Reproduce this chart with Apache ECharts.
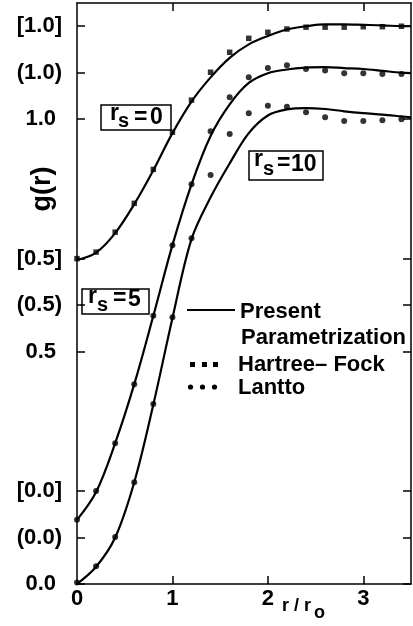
<!DOCTYPE html>
<html><head><meta charset="utf-8">
<script src="https://cdn.jsdelivr.net/npm/echarts@6/dist/echarts.min.js"></script>
<style>html,body{margin:0;padding:0;background:#fff}#c{width:413px;height:626px}</style>
</head><body><div id="c"></div>
<script>
// ---- data (true g(r) values; curves for rs=5 and rs=0 are drawn on offset scales) ----
const xLine = [0,0.2,0.4,0.6,0.8,1.0,1.2,1.4,1.6,1.8,2.0,2.2,2.4,2.6,2.8,3.0,3.2,3.4,3.5];
const lineRs0  = [0.497,0.513,0.555,0.617,0.690,0.770,0.838,0.890,0.932,0.961,0.979,0.993,1.000,1.004,1.004,1.003,1.002,1.000,1.000];
const lineRs5  = [0.038,0.098,0.203,0.330,0.477,0.629,0.760,0.864,0.932,0.978,0.999,1.007,1.011,1.012,1.010,1.008,1.004,1.000,0.999];
const lineRs10 = [0.000,0.037,0.100,0.219,0.386,0.572,0.742,0.832,0.905,0.970,1.008,1.021,1.024,1.022,1.017,1.013,1.010,1.006,1.004];
const xPts = [0,0.2,0.4,0.6,0.8,1.0,1.2,1.4,1.6,1.8,2.0,2.2,2.4,2.6,2.8,3.0,3.2,3.4];
const hartreeFockRs0 = [0.500,0.514,0.557,0.619,0.692,0.772,0.841,0.901,0.944,0.974,0.987,0.994,0.998,0.998,0.998,0.999,0.999,1.000];
const lanttoRs5  = [0.038,0.100,0.203,0.330,0.477,0.629,0.760,0.874,0.947,0.990,1.010,1.016,1.008,1.005,0.999,0.999,0.997,0.997];
const lanttoRs10 = [0.003,0.038,0.101,0.219,0.387,0.574,0.744,0.880,0.968,1.013,1.029,1.027,1.015,1.004,0.996,0.996,0.998,1.000];
const offsetRs0 = 0.2;
const offsetRs5 = 0.1;
const offsetRs10 = 0.0;
const yTickValues = [0,0.1,0.2,0.5,0.6,0.7,1.0,1.1,1.2];
const yTickLabels = ['0.0','(0.0)','[0.0]','0.5','(0.5)','[0.5]','1.0','(1.0)','[1.0]'];
const xTickValues = [0,1,2,3];
const xTickMarks = [1,2,3];

const FAM = '"Liberation Sans", Arial, Helvetica, sans-serif';
const BOLD = (s) => 'bold ' + s + 'px ' + FAM;

function pairs(xs, ys, off) { return xs.map((x, i) => [x, ys[i] + off]); }

const chart = echarts.init(document.getElementById('c'), null, {renderer: 'canvas'});
const axisLineStyle = {color: '#000', width: 1.5};

function txt(x, y, s, size, align) {
  return {type: 'text', x: x, y: y, z: 100,
    style: {text: s, font: BOLD(size), fill: '#000', align: align || 'left', verticalAlign: 'middle',
            textAlign: align || 'left', textVerticalAlign: 'middle'}};
}
function box(x, y, w, h) {
  return {type: 'rect', z: 100, shape: {x: x, y: y, width: w, height: h},
    style: {fill: 'transparent', stroke: '#000', lineWidth: 1.5}};
}

const graphics = [
  // r_s = 0 box
  box(101, 105, 70, 25),
  txt(110, 114, 'r', 23), txt(118, 121, 's', 20), txt(134, 117.5, '=', 23), txt(150, 117.5, '0', 23),
  // r_s = 5 box
  box(82, 289, 67, 25),
  txt(88, 297, 'r', 23), txt(97, 305, 's', 20), txt(113, 299, '=', 23), txt(128, 299.5, '5', 23),
  // r_s = 10 box
  box(249, 151, 74, 29),
  txt(254, 160, 'r', 23), txt(263, 169, 's', 20), txt(277, 164, '=', 23), txt(291, 164.5, '10', 23),
  // legend
  {type: 'line', z: 100, shape: {x1: 187, y1: 310, x2: 235, y2: 310}, style: {stroke: '#000', lineWidth: 1.8}},
  txt(240, 311.5, 'Present', 22),
  txt(241, 337.5, 'Parametrization', 22),
  {type: 'rect', z: 100, shape: {x: 190, y: 362, width: 5, height: 5}, style: {fill: '#000'}},
  {type: 'rect', z: 100, shape: {x: 202, y: 362, width: 5, height: 5}, style: {fill: '#000'}},
  {type: 'rect', z: 100, shape: {x: 213, y: 362, width: 5, height: 5}, style: {fill: '#000'}},
  txt(238, 365, 'Hartree\u2013 Fock', 22),
  {type: 'circle', z: 100, shape: {cx: 190.5, cy: 387, r: 2.6}, style: {fill: '#000'}},
  {type: 'circle', z: 100, shape: {cx: 202.5, cy: 387, r: 2.6}, style: {fill: '#000'}},
  {type: 'circle', z: 100, shape: {cx: 214.5, cy: 387, r: 2.6}, style: {fill: '#000'}},
  txt(238, 387.5, 'Lantto', 22),
  // axis titles
  txt(282, 606, 'r / r', 18), txt(314, 613, 'o', 18),
  {type: 'text', x: 43, y: 189, rotation: Math.PI / 2, z: 100,
   style: {text: 'g(r)', font: BOLD(27), fill: '#000', align: 'center', verticalAlign: 'middle',
           textAlign: 'center', textVerticalAlign: 'middle'}}
];

const lineStyle = {color: '#000', width: 2.2};
const option = {
  backgroundColor: '#fff',
  animation: false,
  grid: {left: 77, right: 2, top: 3, bottom: 42, containLabel: false},
  xAxis: [
    {type: 'value', min: 0, max: 3.5, position: 'bottom',
     axisLine: {show: true, onZero: false, lineStyle: axisLineStyle},
     axisTick: {show: true, inside: true, length: 8, customValues: xTickMarks, lineStyle: axisLineStyle},
     axisLabel: {show: true, customValues: xTickValues, margin: 4, color: '#000',
                 fontFamily: FAM, fontWeight: 'bold', fontSize: 22},
     splitLine: {show: false}},
    {type: 'value', min: 0, max: 3.5, position: 'top',
     axisLine: {show: true, onZero: false, lineStyle: axisLineStyle},
     axisTick: {show: true, inside: true, length: 8, customValues: xTickMarks, lineStyle: axisLineStyle},
     axisLabel: {show: false}, splitLine: {show: false}}
  ],
  yAxis: [
    {type: 'value', min: 0, max: 1.25, position: 'left',
     axisLine: {show: true, onZero: false, lineStyle: axisLineStyle},
     axisTick: {show: true, inside: true, length: 8, customValues: yTickValues, lineStyle: axisLineStyle},
     axisLabel: {show: true, customValues: yTickValues, margin: 15,
       formatter: function (v) {
         let idx = 0, best = 1e9;
         yTickValues.forEach((t, i) => { const d = Math.abs(t - v); if (d < best) { best = d; idx = i; } });
         const s = yTickLabels[idx];
         return (s[0] === '(' || s[0] === '[') ? '{b|' + s + '}' : '{p|' + s + '}';
       },
       rich: {
         b: {fontFamily: FAM, fontWeight: 'bold', fontSize: 22, color: '#000'},
         p: {fontFamily: FAM, fontWeight: 'bold', fontSize: 22, color: '#000', padding: [0, 6, 0, 0]}
       }},
     splitLine: {show: false}},
    {type: 'value', min: 0, max: 1.25, position: 'right',
     axisLine: {show: true, onZero: false, lineStyle: axisLineStyle},
     axisTick: {show: true, inside: true, length: 8, customValues: yTickValues, lineStyle: axisLineStyle},
     axisLabel: {show: false}, splitLine: {show: false}}
  ],
  series: [
    {name: 'Present rs=0', type: 'line', data: pairs(xLine, lineRs0, offsetRs0), smooth: 0.35,
     showSymbol: false, lineStyle: lineStyle, z: 3},
    {name: 'Present rs=5', type: 'line', data: pairs(xLine, lineRs5, offsetRs5), smooth: 0.35,
     showSymbol: false, lineStyle: lineStyle, z: 3},
    {name: 'Present rs=10', type: 'line', data: pairs(xLine, lineRs10, offsetRs10), smooth: 0.35,
     showSymbol: false, lineStyle: lineStyle, z: 3},
    {name: 'Hartree-Fock', type: 'scatter', data: pairs(xPts, hartreeFockRs0, offsetRs0),
     symbol: 'rect', symbolSize: 5.5, itemStyle: {color: '#000'}, z: 4},
    {name: 'Lantto rs=5', type: 'scatter', data: pairs(xPts, lanttoRs5, offsetRs5),
     symbol: 'circle', symbolSize: 6, itemStyle: {color: '#000'}, z: 4},
    {name: 'Lantto rs=10', type: 'scatter', data: pairs(xPts, lanttoRs10, offsetRs10),
     symbol: 'circle', symbolSize: 6, itemStyle: {color: '#000'}, z: 4}
  ],
  graphic: {elements: graphics}
};
chart.setOption(option);
</script>
</body></html>
